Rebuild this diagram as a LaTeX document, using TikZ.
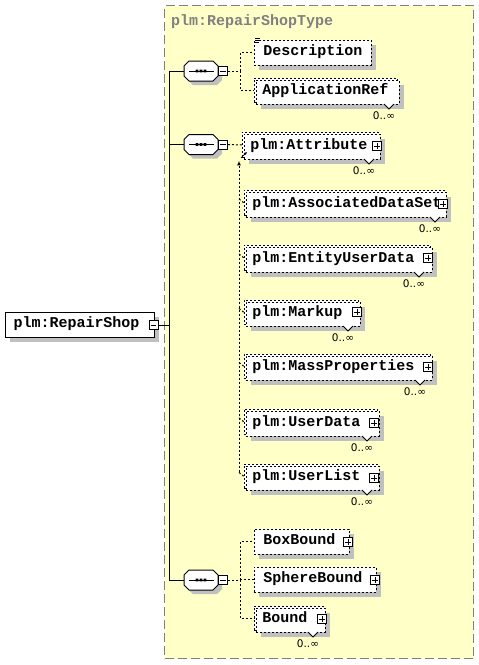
\documentclass[tikz,border=0pt]{standalone}
\usepackage{fontspec}
\newfontfamily\elfont{Liberation Mono}
\newfontfamily\cardfont{DejaVu Sans}
\usetikzlibrary{arrows.meta}
\definecolor{typeyellow}{RGB}{255,255,200}
\definecolor{shadowgray}{RGB}{192,192,192}
\definecolor{titlegray}{RGB}{128,128,128}
\tikzset{
  lbl/.style={font=\elfont\bfseries\fontsize{15}{15}\selectfont},
  elemline/.style={draw=black, line width=0.9pt, dash pattern=on 2pt off 2pt},
  elembox/.style={elemline, fill=white, inner sep=0pt, anchor=north west, lbl, text height=7.5pt, text depth=2.5pt},
  rootbox/.style={draw=black, line width=1pt, fill=white, inner sep=0pt, anchor=north west, lbl, text height=7.5pt, text depth=2.5pt},
  shadowfill/.style={fill=shadowgray},
  plusbox/.style={draw=black, solid, fill=white, line width=0.8pt, minimum size=9pt, inner sep=0pt, anchor=center,
    path picture={\draw[line width=0.8pt] ([xshift=1.8pt]path picture bounding box.west) -- ([xshift=-1.8pt]path picture bounding box.east)
      ([yshift=1.8pt]path picture bounding box.south) -- ([yshift=-1.8pt]path picture bounding box.north);}},
  minusbox/.style={draw=black, solid, fill=white, line width=0.8pt, minimum size=9pt, inner sep=0pt, anchor=center,
    path picture={\draw[line width=0.8pt] ([xshift=1.8pt]path picture bounding box.west) -- ([xshift=-1.8pt]path picture bounding box.east);}},
  card/.style={font=\cardfont\fontsize{10.5}{11}\selectfont, inner sep=0pt},
  seqbox/.style={minimum width=34pt, minimum height=20pt, inner sep=0pt},
  conn/.style={draw=black, line width=1pt},
  dconn/.style={draw=black, line width=1pt, dash pattern=on 2pt off 2pt},
  typebox/.style={draw=titlegray, line width=1pt, dash pattern=on 9pt off 4pt, fill=typeyellow, inner sep=0pt, anchor=north west},
}
% single element box: name, x1, y1, x2, y2, text
\newcommand\ElSingle[6]{%
  \pgfmathsetmacro\bw{#4-#2}\pgfmathsetmacro\bh{#5-#3}%
  \fill[shadowfill] (#2+5,#3+5) rectangle (#4+5,#5+5);
  \node[elembox, minimum width=\bw pt, minimum height=\bh pt] (#1) at (#2,#3) {\makebox[\bw pt][l]{\hspace{9pt}#6}};
}
% repeated element box: name, x1, y1, x2, y2, text, notch x
\newcommand\ElMulti[7]{%
  \pgfmathsetmacro\bw{#4-#2-2}\pgfmathsetmacro\bh{#5-#3-2}%
  \fill[shadowfill] (#2+7,#3+7) rectangle (#4+5,#5+5);
  \node[elemline, fill=white, inner sep=0pt, anchor=north west, minimum width=\bw pt, minimum height=\bh pt] (#1b) at (#2,#3) {};
  \node[elembox, minimum width=\bw pt, minimum height=\bh pt] (#1) at (#2+2,#3+2) {\makebox[\bw pt][l]{\hspace{6pt}#6}};
  \draw[line width=0.8pt, fill=white] (#7-5,#5) -- (#7,#5+5) -- (#7+5,#5);
  \node[card] (#1c) at (#7-5,#5+12) {0..∞};
}
\newcommand\OctPath{(-12,-10) -- (12,-10) -- (17,-5) -- (17,5) -- (12,10) -- (-12,10) -- (-17,5) -- (-17,-5) -- cycle}
% sequence compositor: name, cx, cy
\newcommand\SeqGrp[3]{%
  \begin{scope}[shift={(#2+4,#3+4)}]\fill[shadowfill] \OctPath;\end{scope}
  \node[seqbox] (#1) at (#2,#3) {};
  \begin{scope}[shift={(#2,#3)}]
    \draw[line width=1pt, fill=white] \OctPath;
    \draw[line width=0.9pt] (-12,0) -- (13,0);
    \fill (-5.3,-1.3) rectangle (-2.7,1.3) (-1.3,-1.3) rectangle (1.3,1.3) (2.7,-1.3) rectangle (5.3,1.3);
  \end{scope}
  \node[minusbox] (#1m) at (#2+22,#3) {};
}
\begin{document}
\begin{tikzpicture}[x=1pt,y=-1pt]
\useasboundingbox (0,0) rectangle (479,665);
\node[typebox, minimum width=309pt, minimum height=653pt] (typebox) at (164,5) {};
\node[anchor=base west, lbl, text=titlegray, inner sep=0pt] (title) at (171,25) {plm:RepairShopType};

% root element
\fill[shadowfill] (10,317) rectangle (159,342);
\node[rootbox, minimum width=149pt, minimum height=25pt] (root) at (5,312) {\makebox[149pt][l]{\hspace{8pt}plm:RepairShop}};
\node[minusbox] (rootm) at (153.5,325) {};

% compositors
\SeqGrp{s1}{201}{71}
\SeqGrp{s2}{201}{144.5}
\SeqGrp{s3}{201}{580}

\draw[conn] (rootm.east) -- ++(11,0) coordinate (trunk);
\draw[conn] (trunk) |- (s1.west);
\draw[conn] (trunk) |- (s2.west);
\draw[conn] (trunk) |- (s3.west);

% first sequence
\ElSingle{desc}{254}{40}{371}{65}{Description}
\draw[line width=0.7pt] (255,38.5) -- (260,38.5) (255,40.5) -- (260,40.5) (255,42.5) -- (259,42.5);
\ElMulti{appref}{254}{78}{399}{104}{ApplicationRef}{389}

% second sequence
\ElMulti{attr}{242}{132}{380}{159}{plm:Attribute}{369}
\node[plusbox] (attrp) at (377,146) {};
\ElMulti{assoc}{244}{190}{446}{217}{plm:AssociatedDataSet}{435}
\node[plusbox] (assocp) at (443,204) {};
\ElMulti{entity}{244}{245}{432}{272}{plm:EntityUserData}{419}
\node[plusbox] (entityp) at (428,258) {};
\ElMulti{markup}{244}{300}{360}{326}{plm:Markup}{348}
\node[plusbox] (markupp) at (357,312) {};
\ElMulti{mass}{244}{354}{432}{380}{plm:MassProperties}{420}
\node[plusbox] (massp) at (428,367) {};
\ElMulti{userdata}{244}{409}{379}{436}{plm:UserData}{367}
\node[plusbox] (userdatap) at (374,423) {};
\ElMulti{userlist}{244}{464}{379}{490}{plm:UserList}{367}
\node[plusbox] (userlistp) at (374,478) {};

% third sequence
\ElSingle{boxbound}{254}{529}{349}{554}{BoxBound}
\node[plusbox] (boxboundp) at (348,542) {};
\ElSingle{spherebound}{254}{567}{376}{592}{SphereBound}
\node[plusbox] (sphereboundp) at (375,580) {};
\ElMulti{bound}{254}{606}{325}{632}{Bound}{313}
\node[plusbox] (boundp) at (322,619) {};

% dashed connectors
\draw[dconn] (s1m.east) -- ++(12.5,0) coordinate (j1);
\draw[dconn] (j1) |- (desc.west);
\draw[dconn] (j1) |- (apprefb.west);

\draw[dconn] (s2m.east) -- (attrb.west);
\path (attrb.south west) ++(-3,3) coordinate (gtop);
\path (userlistb.west) ++(-5,-4) coordinate (gbot);
\draw[dconn] (gbot) -- (userlistb.west);
\draw[dconn, -{Latex[length=4.5pt,width=4pt]}] (gbot) -- (gtop);
\foreach \n in {assocb,entityb,markupb,massb,userdatab}
  \draw[dconn] (\n.west -| gbot) ++(0,-4) -- (\n.west);
\draw[line width=0.8pt, -{Latex[length=3pt,width=3pt]}] ([shift={(-1,0)}]attrb.south west) -- ++(6,-6);

\draw[dconn] (s3m.east) -- ++(12.5,0) coordinate (j3);
\draw[dconn] (j3) |- (boxbound.west);
\draw[dconn] (j3) |- (spherebound.west);
\draw[dconn] (j3) |- (boundb.west);
\end{tikzpicture}
\end{document}
